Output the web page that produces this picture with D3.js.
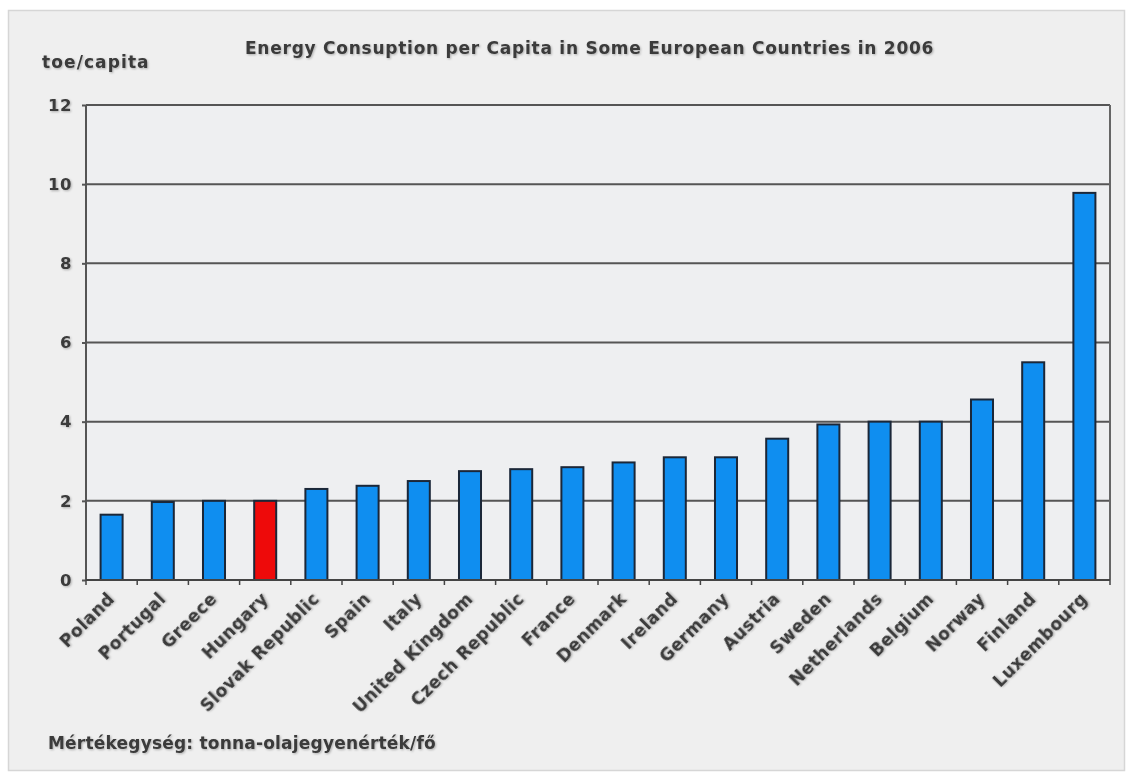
<!DOCTYPE html>
<html>
<head>
<meta charset="utf-8">
<script src="https://cdn.jsdelivr.net/npm/d3@7"></script>
<style>
  html, body { margin: 0; padding: 0; background: #ffffff; }
  svg { display: block; }
  text { font-family: "DejaVu Sans", Verdana, sans-serif; font-weight: bold; fill: #3a3a3a; }
</style>
</head>
<body>
<svg id="chart" width="1133" height="772"></svg>
<script>
// Energy consumption per capita, 2006 (toe/capita)
const countries = ["Poland", "Portugal", "Greece", "Hungary", "Slovak Republic", "Spain", "Italy",
  "United Kingdom", "Czech Republic", "France", "Denmark", "Ireland", "Germany", "Austria",
  "Sweden", "Netherlands", "Belgium", "Norway", "Finland", "Luxembourg"];
const values = [1.65, 1.97, 2.0, 2.0, 2.3, 2.38, 2.5, 2.75, 2.8, 2.85, 2.97, 3.1, 3.1, 3.57,
  3.93, 4.0, 4.0, 4.56, 5.5, 9.78];
const highlighted = ["Hungary"];
const yTicks = [0, 2, 4, 6, 8, 10, 12];

const titleText = "Energy Consuption per Capita in Some European Countries in 2006";
const unitText = "toe/capita";
const noteText = "Mértékegység: tonna-olajegyenérték/fő";

const svg = d3.select("#chart");
const W = 1133, H = 772;
const plot = { left: 86, right: 1110, top: 105, bottom: 580 };

// soft text shadow
const defs = svg.append("defs");
const f = defs.append("filter").attr("id", "tshadow").attr("x", "-10%").attr("y", "-30%")
  .attr("width", "130%").attr("height", "170%");
f.append("feDropShadow").attr("dx", 1).attr("dy", 1).attr("stdDeviation", 0.9)
  .attr("flood-color", "#000").attr("flood-opacity", 0.28);

// panel
svg.append("rect").attr("x", 0).attr("y", 0).attr("width", W).attr("height", H).attr("fill", "#ffffff");
svg.append("rect").attr("x", 8.5).attr("y", 10.5).attr("width", 1116).attr("height", 760)
  .attr("fill", "#efefef").attr("stroke", "#d6d6d6").attr("stroke-width", 1.5);

const x = d3.scaleBand().domain(countries).range([plot.left, plot.right]).paddingInner(0.57).paddingOuter(0.285);
const y = d3.scaleLinear().domain([0, 12]).range([plot.bottom, plot.top]);

// plot background
svg.append("rect").attr("x", plot.left).attr("y", plot.top)
  .attr("width", plot.right - plot.left).attr("height", plot.bottom - plot.top)
  .attr("fill", "#eeeff1");

// gridlines
svg.append("g").selectAll("line").data(yTicks.filter(t => t > 0)).join("line")
  .attr("x1", plot.left).attr("x2", plot.right)
  .attr("y1", d => y(d)).attr("y2", d => y(d))
  .attr("stroke", "#555").attr("stroke-width", 2);

// frame: left, right
svg.append("line").attr("x1", plot.left).attr("x2", plot.left).attr("y1", plot.top).attr("y2", plot.bottom)
  .attr("stroke", "#555").attr("stroke-width", 2);
svg.append("line").attr("x1", plot.right).attr("x2", plot.right).attr("y1", plot.top).attr("y2", plot.bottom)
  .attr("stroke", "#666").attr("stroke-width", 2);

// bars
svg.append("g").selectAll("rect").data(countries).join("rect")
  .attr("x", d => x(d)).attr("width", x.bandwidth())
  .attr("y", (d, i) => y(values[i])).attr("height", (d, i) => y(0) - y(values[i]))
  .attr("fill", d => highlighted.includes(d) ? "#ee0a0a" : "#0f8ef0")
  .attr("stroke", "#1b2738").attr("stroke-width", 2);

// y axis
const yAxis = svg.append("g").attr("transform", `translate(${plot.left},0)`)
  .call(d3.axisLeft(y).tickValues(yTicks).tickSize(4).tickPadding(10).tickFormat(d3.format("d")));
yAxis.select(".domain").remove();
yAxis.selectAll(".tick line").attr("stroke", "#555").attr("stroke-width", 2);
yAxis.selectAll(".tick text").attr("font-size", 16.5).attr("fill", "#3a3a3a")
  .attr("font-family", "DejaVu Sans, Verdana, sans-serif").attr("font-weight", "bold")
  .attr("letter-spacing", 0.5)
  .attr("filter", "url(#tshadow)");

// x axis baseline and separators between categories
svg.append("line").attr("x1", plot.left).attr("x2", plot.right).attr("y1", plot.bottom).attr("y2", plot.bottom)
  .attr("stroke", "#444").attr("stroke-width", 2);
const step = x.step();
svg.append("g").selectAll("line").data(d3.range(countries.length + 1)).join("line")
  .attr("x1", i => plot.left + i * step).attr("x2", i => plot.left + i * step)
  .attr("y1", plot.bottom).attr("y2", plot.bottom + 5)
  .attr("stroke", "#444").attr("stroke-width", 1.5);

// category labels
svg.append("g").selectAll("text").data(countries).join("text")
  .attr("transform", d => `translate(${x(d) + x.bandwidth() / 2 + 4},${plot.bottom + 20}) rotate(-45)`)
  .attr("text-anchor", "end")
  .attr("font-size", 17)
  .attr("letter-spacing", 0.5)
  .attr("filter", "url(#tshadow)")
  .text(d => d);

// title, unit, note
svg.append("text").attr("x", 245).attr("y", 54)
  .attr("font-size", 17).attr("letter-spacing", 0.75).attr("filter", "url(#tshadow)").text(titleText);
svg.append("text").attr("x", 42).attr("y", 68).attr("font-size", 17).attr("letter-spacing", 1.1)
  .attr("filter", "url(#tshadow)").text(unitText);
svg.append("text").attr("x", 48).attr("y", 749).attr("font-size", 17).attr("letter-spacing", 0.2)
  .attr("filter", "url(#tshadow)").text(noteText);
</script>
</body>
</html>
